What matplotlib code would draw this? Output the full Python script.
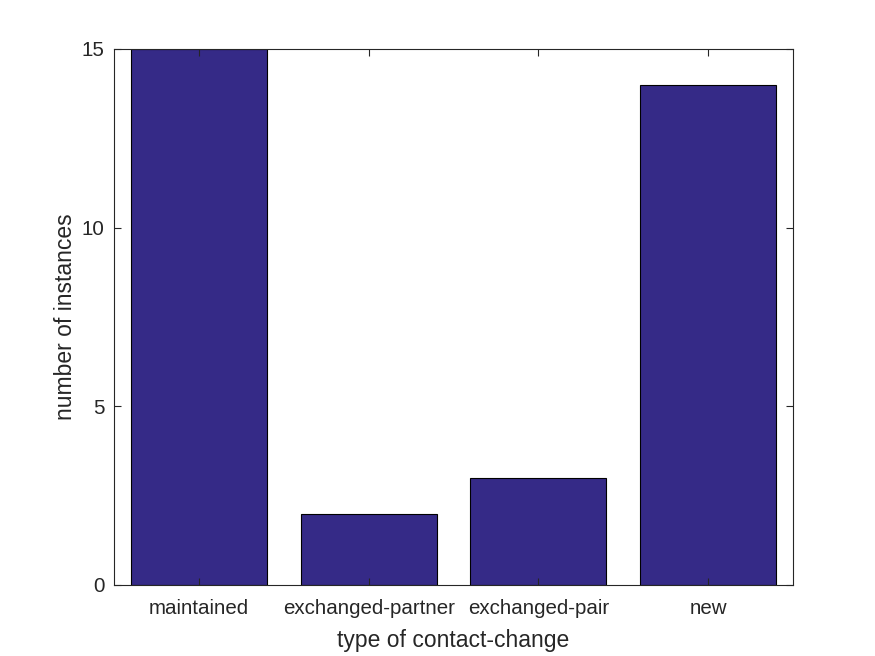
import matplotlib

matplotlib.use("Agg")
import matplotlib.pyplot as plt

categorias = ["maintained", "exchanged-partner", "exchanged-pair", "new"]
instancias = [15, 2, 3, 14]
yticks = [0, 5, 10, 15]

plt.rcParams["font.family"] = ["Liberation Sans", "DejaVu Sans"]
cor_texto = "#262626"

fig = plt.figure(figsize=(8.75, 6.56), dpi=100)
ax = fig.add_axes([114 / 875, 71 / 656, 679 / 875, 536 / 656])

pos = list(range(1, len(categorias) + 1))
ax.bar(pos, instancias, width=0.8, color="#352A87", edgecolor="black", linewidth=0.8, zorder=1)

ax.set_xlim(0.5, 4.5)
ax.set_ylim(0, 15)
ax.set_xticks(pos)
ax.set_xticklabels(categorias)
ax.set_yticks(yticks)

ax.tick_params(direction="in", top=True, right=True, length=5, width=0.8,
               colors=cor_texto, labelsize=14.8, pad=7)
ax.tick_params(axis="x", pad=10)
for s in ax.spines.values():
    s.set_color(cor_texto)
    s.set_linewidth(0.8)
    s.set_zorder(3)

ax.set_xlabel("type of contact-change", fontsize=16.5, color=cor_texto, labelpad=8)
ax.set_ylabel("number of instances", fontsize=16.5, color=cor_texto, labelpad=3)

fig.savefig("out.png", dpi=100)
